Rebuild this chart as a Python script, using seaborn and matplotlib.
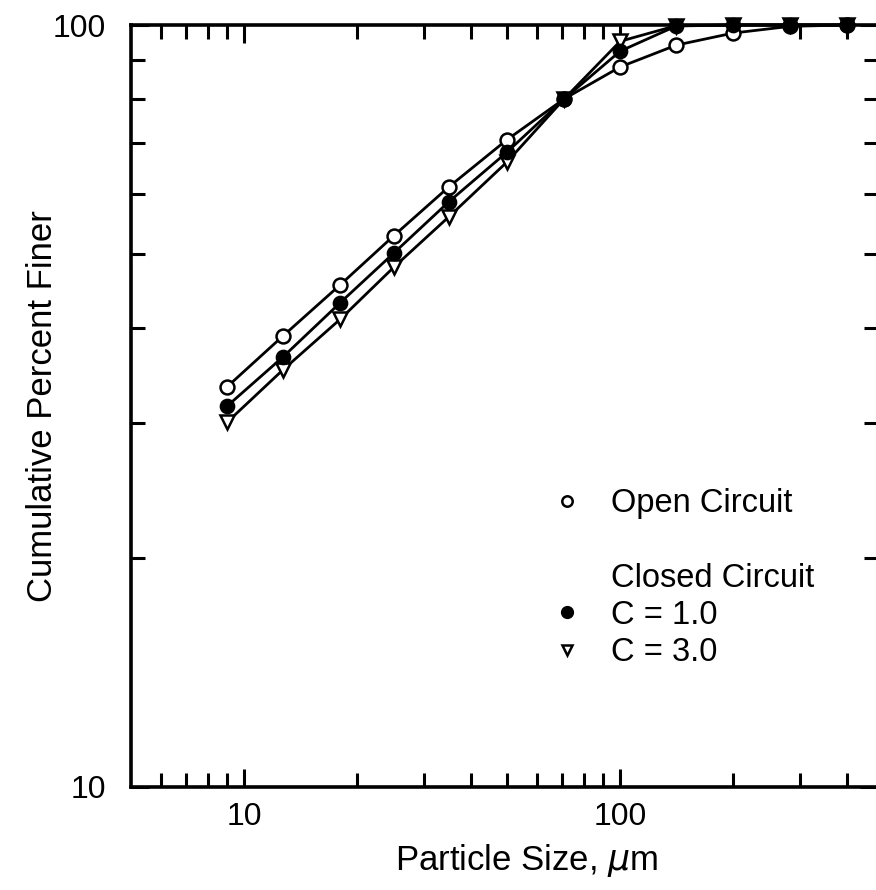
import matplotlib
matplotlib.use("Agg")
import matplotlib.pyplot as plt
import seaborn as sns
from matplotlib.lines import Line2D
from matplotlib.ticker import FixedLocator, NullFormatter, FixedFormatter

# Cumulative size distributions of the ground product
particle_size = [9, 12.7, 18, 25, 35, 50, 71, 100, 141, 200, 283, 400]
open_circuit = [33.5, 39.1, 45.6, 52.9, 61.3, 70.7, 80.0, 88.1, 94.1, 97.6, 99.6, 100.0]
closed_c1 = [31.6, 36.7, 43.2, 50.2, 58.6, 68.1, 80.0, 92.4, 99.7, 100.0, 100.0, 100.0]
closed_c3 = [30.1, 35.3, 41.1, 48.1, 56.0, 66.1, 80.0, 95.2, 99.8, 100.0, 100.0, 100.0]

x_major = [10, 100]
x_minor = [6, 7, 8, 9, 20, 30, 40, 50, 60, 70, 80, 90, 200, 300, 400]
y_major = [10, 100]
y_minor = [20, 30, 40, 50, 60, 70, 80, 90]
tick_text = ["10", "100"]

sns.set_style("ticks")
plt.rcParams["font.family"] = ["Liberation Sans", "DejaVu Sans"]
plt.rcParams["mathtext.fontset"] = "dejavusans"
plt.rcParams["text.color"] = "black"

FS_TICK = 23
FS_LABEL = 25
FS_LEG = 23.5

fig = plt.figure(figsize=(8.76, 8.9), dpi=100)
fig.patch.set_facecolor("white")
ax = fig.add_axes([131 / 876, 103 / 890, (878 - 131) / 876, 762 / 890])
ax.set_facecolor("white")

line_kw = dict(color="black", lw=2.0, markeredgecolor="black",
               markeredgewidth=1.8, clip_on=False)

sns.lineplot(x=particle_size, y=closed_c3, ax=ax, marker="v", markersize=9.5,
             markerfacecolor="white", zorder=3, **line_kw)
sns.lineplot(x=particle_size, y=open_circuit, ax=ax, marker="o", markersize=10,
             markerfacecolor="white", zorder=4, **line_kw)
sns.lineplot(x=particle_size, y=closed_c1, ax=ax, marker="o", markersize=9.5,
             markerfacecolor="black", zorder=5, **line_kw)

ax.set_xscale("log")
ax.set_yscale("log")
ax.set_xlim(5, 485)
ax.set_ylim(10, 100)

ax.xaxis.set_major_locator(FixedLocator(x_major))
ax.xaxis.set_major_formatter(FixedFormatter(tick_text))
ax.xaxis.set_minor_locator(FixedLocator(x_minor))
ax.xaxis.set_minor_formatter(NullFormatter())
ax.yaxis.set_major_locator(FixedLocator(y_major))
ax.yaxis.set_major_formatter(FixedFormatter(tick_text))
ax.yaxis.set_minor_locator(FixedLocator(y_minor))
ax.yaxis.set_minor_formatter(NullFormatter())

ax.tick_params(which="both", direction="in", top=True, right=True,
               width=2.2, color="black", labelsize=FS_TICK, labelcolor="black")
ax.tick_params(which="major", length=13)
ax.tick_params(which="minor", length=10)
ax.tick_params(axis="x", which="major", pad=11)
ax.tick_params(axis="y", which="major", pad=18)

for sp in ax.spines.values():
    sp.set_linewidth(2.6)
    sp.set_color("black")
    sp.set_visible(True)

ax.set_xlabel("Particle Size, $\\mu$m", fontsize=FS_LABEL, color="black")
ax.set_ylabel("Cumulative Percent Finer", fontsize=FS_LABEL, color="black")
ax.xaxis.set_label_coords(0.529, -0.072)
ax.yaxis.set_label_coords(-0.097, 0.5)

blank = Line2D([], [], ls="none", marker="none")
handles = [
    Line2D([], [], ls="none", marker="o", markersize=7.5, markerfacecolor="white",
           markeredgecolor="black", markeredgewidth=1.8),
    blank,
    blank,
    Line2D([], [], ls="none", marker="o", markersize=8.5, markerfacecolor="black",
           markeredgecolor="black"),
    Line2D([], [], ls="none", marker="v", markersize=7.5, markerfacecolor="white",
           markeredgecolor="black", markeredgewidth=1.8),
]
labels = ["Open Circuit", " ", "Closed Circuit", "C = 1.0", "C = 3.0"]
ax.legend(handles, labels, loc="upper left", bbox_to_anchor=(0.570, 0.392),
          frameon=False, fontsize=FS_LEG, handlelength=0.6, handletextpad=1.05,
          borderpad=0, borderaxespad=0, labelspacing=0.19)

fig.savefig("out.png", dpi=100, facecolor="white")
